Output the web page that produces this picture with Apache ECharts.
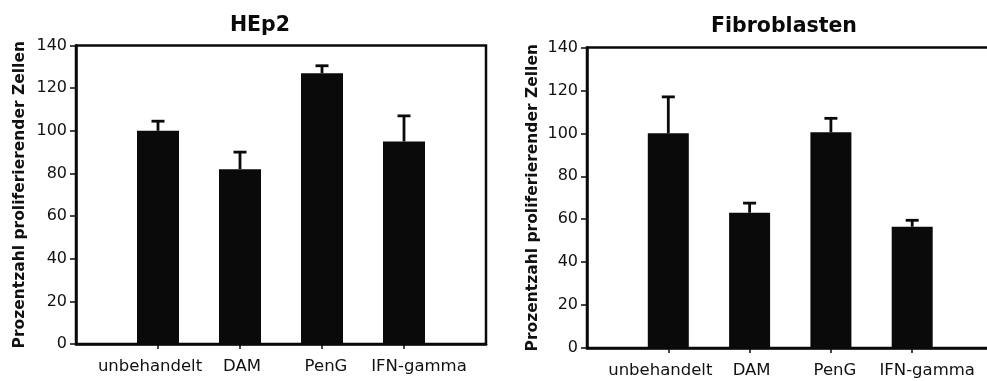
<!DOCTYPE html>
<html>
<head>
<meta charset="utf-8">
<script src="https://cdn.jsdelivr.net/npm/echarts@6/dist/echarts.min.js"></script>
<style>
  html, body { margin: 0; padding: 0; background: #fff; }
  #chart { width: 987px; height: 381px; }
</style>
</head>
<body>
<div id="chart"></div>
<script>
// Treatment groups shown on both panels
const categories = ['unbehandelt', 'DAM', 'PenG', 'IFN-gamma'];

// HEp2: mean percentage of proliferating cells and upper error limit
const hep2Means = [100, 82, 127, 95];
const hep2Upper = [104.5, 90, 130.5, 107];

// Fibroblasten: mean percentage of proliferating cells and upper error limit
const fibroMeans = [100, 63, 100.5, 56.5];
const fibroUpper = [117, 67.5, 107, 59.5];

const yTicks = [0, 20, 40, 60, 80, 100, 120, 140];

const FONT = 'DejaVu Sans';
const yName = 'Prozentzahl proliferierender Zellen';

// Horizontal nudge (px) of each group label relative to its tick
const labelShift = { 'unbehandelt': -8, 'DAM': 2, 'PenG': 4, 'IFN-gamma': 15 };

// One empty slot on each side so the groups sit inside the box
const axisCats = [''].concat(categories, ['']);
const pad = arr => ['-'].concat(arr, ['-']);

function errorData(means, upper) {
  return means.map((m, i) => [i + 1, m, upper[i]]);
}

function renderError(params, api) {
  const x = api.value(0);
  const base = api.coord([x, api.value(1)]);
  const top = api.coord([x, api.value(2)]);
  const cap = 6.5;
  const style = { stroke: '#0a0a0a', lineWidth: 2.8, fill: null };
  return {
    type: 'group',
    children: [
      { type: 'line', shape: { x1: base[0], y1: base[1], x2: top[0], y2: top[1] }, style: style },
      { type: 'line', shape: { x1: top[0] - cap, y1: top[1], x2: top[0] + cap, y2: top[1] }, style: style }
    ]
  };
}

// rich styles that shift each category label sideways via padding
const richLabels = {};
categories.forEach((c, i) => {
  const s = labelShift[c] || 0;
  richLabels['c' + i] = {
    fontFamily: FONT, fontSize: 16.5, color: '#111',
    padding: s >= 0 ? [0, 0, 0, 2 * s] : [0, -2 * s, 0, 0]
  };
});

function xAxisFor(gridIndex) {
  return {
    type: 'category',
    gridIndex: gridIndex,
    data: axisCats,
    boundaryGap: false,
    axisLine: { lineStyle: { color: '#0a0a0a', width: 2.5 } },
    axisTick: { show: true, length: 5, inside: false, interval: (i, v) => v !== '', lineStyle: { color: '#0a0a0a', width: 1.5 } },
    axisLabel: {
      interval: 0, margin: 14, fontFamily: FONT, fontSize: 16.5, color: '#111',
      formatter: v => {
        const i = categories.indexOf(v);
        return i < 0 ? '' : '{c' + i + '|' + v + '}';
      },
      rich: richLabels
    },
    splitLine: { show: false }
  };
}

function yAxisFor(gridIndex, gap) {
  return {
    type: 'value',
    gridIndex: gridIndex,
    min: yTicks[0],
    max: yTicks[yTicks.length - 1],
    interval: yTicks[1] - yTicks[0],
    name: yName,
    nameLocation: 'middle',
    nameGap: gap,
    nameRotate: 90,
    nameTextStyle: { fontFamily: FONT, fontSize: 15.5, fontWeight: 'bold', color: '#111' },
    axisLine: { show: true, lineStyle: { color: '#0a0a0a', width: 2.5 } },
    axisTick: { show: true, length: 6, lineStyle: { color: '#0a0a0a', width: 1.5 } },
    axisLabel: { margin: 9, fontFamily: FONT, fontSize: 16, color: '#111' },
    splitLine: { show: false }
  };
}

const chart = echarts.init(document.getElementById('chart'), null, { renderer: 'canvas' });

chart.setOption({
  backgroundColor: '#ffffff',
  animation: false,
  title: [
    { text: 'HEp2', left: 255, top: 10, textAlign: 'center',
      textStyle: { fontFamily: FONT, fontSize: 20.5, fontWeight: 'bold', color: '#0a0a0a' } },
    { text: 'Fibroblasten', left: 779, top: 11, textAlign: 'center',
      textStyle: { fontFamily: FONT, fontSize: 20.5, fontWeight: 'bold', color: '#0a0a0a' } }
  ],
  grid: [
    { left: 76, top: 45.5, width: 410, height: 298.5, outerBoundsMode: 'none',
      show: true, borderColor: '#0a0a0a', borderWidth: 2.5, backgroundColor: 'transparent' },
    { left: 587, top: 47.5, width: 406.5, height: 300.5, outerBoundsMode: 'none',
      show: true, borderColor: '#0a0a0a', borderWidth: 2.5, backgroundColor: 'transparent' }
  ],
  xAxis: [xAxisFor(0), xAxisFor(1)],
  yAxis: [yAxisFor(0, 48), yAxisFor(1, 46)],
  series: [
    { type: 'bar', xAxisIndex: 0, yAxisIndex: 0, data: pad(hep2Means), barWidth: 42,
      itemStyle: { color: '#0a0a0a' } },
    { type: 'custom', xAxisIndex: 0, yAxisIndex: 0, renderItem: renderError,
      data: errorData(hep2Means, hep2Upper), z: 1 },
    { type: 'bar', xAxisIndex: 1, yAxisIndex: 1, data: pad(fibroMeans), barWidth: 41,
      itemStyle: { color: '#0a0a0a' } },
    { type: 'custom', xAxisIndex: 1, yAxisIndex: 1, renderItem: renderError,
      data: errorData(fibroMeans, fibroUpper), z: 1 }
  ]
});
</script>
</body>
</html>
